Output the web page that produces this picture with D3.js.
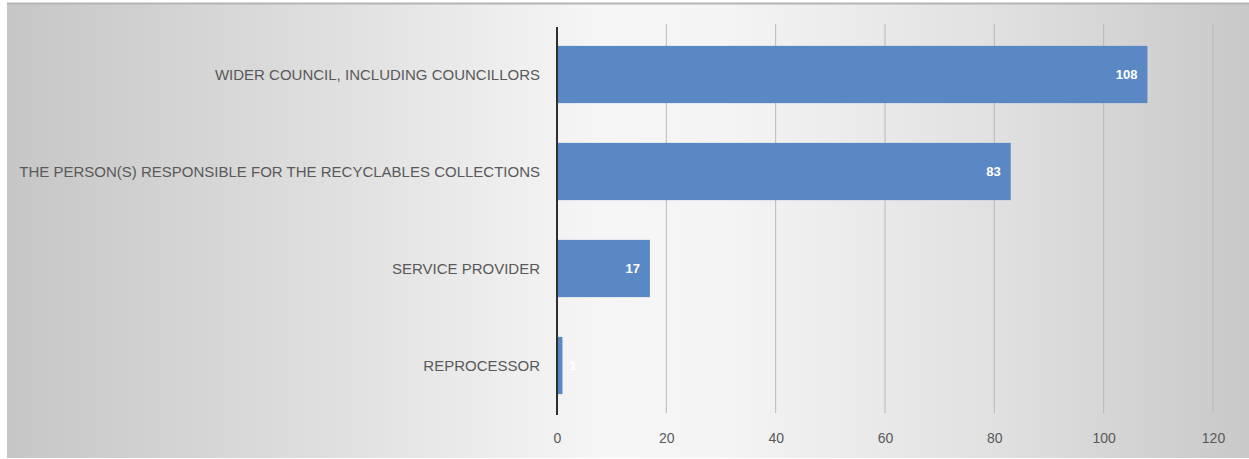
<!DOCTYPE html>
<html>
<head>
<meta charset="utf-8">
<script src="https://cdn.jsdelivr.net/npm/d3@7"></script>
<style>
  html, body { margin: 0; padding: 0; background: #ffffff; }
  svg { display: block; }
</style>
</head>
<body>
<svg id="chart" width="1249" height="459"></svg>
<script>
// Who receives the recyclables report
const categories = [
  "WIDER COUNCIL, INCLUDING COUNCILLORS",
  "THE PERSON(S) RESPONSIBLE FOR THE RECYCLABLES COLLECTIONS",
  "SERVICE PROVIDER",
  "REPROCESSOR"
];
const counts = [108, 83, 17, 1];
const tickValues = [0, 20, 40, 60, 80, 100, 120];

const W = 1249, H = 459;
const margin = { top: 24, right: 36, bottom: 47, left: 557 };

const svg = d3.select("#chart");

// Background panel with soft horizontal shading
const defs = svg.append("defs");
const grad = defs.append("linearGradient")
  .attr("id", "panelShade").attr("x1", "0%").attr("x2", "100%").attr("y1", "0%").attr("y2", "0%");
[["0%", "#c6c6c6"], ["25%", "#dedede"], ["48%", "#f6f6f6"], ["58%", "#f4f4f4"], ["80%", "#e0e0e0"], ["100%", "#c8c8c8"]]
  .forEach(([o, c]) => grad.append("stop").attr("offset", o).attr("stop-color", c));

svg.append("rect")
  .attr("x", 7).attr("y", 3).attr("width", W - 7).attr("height", H - 3 - 1)
  .attr("fill", "url(#panelShade)");
svg.append("line")
  .attr("x1", 7).attr("x2", W).attr("y1", 3.5).attr("y2", 3.5)
  .attr("stroke", "#b4b4b4").attr("stroke-width", 2);

const x = d3.scaleLinear().domain([0, 120]).range([margin.left, W - margin.right]);
const y = d3.scaleBand().domain(categories)
  .range([margin.top, H - margin.bottom]).paddingInner(0.41).paddingOuter(0.205);

// Vertical gridlines
svg.append("g")
  .selectAll("line")
  .data(tickValues.filter(v => v > 0))
  .join("line")
  .attr("x1", d => x(d)).attr("x2", d => x(d))
  .attr("y1", margin.top).attr("y2", H - margin.bottom + 1)
  .attr("stroke", "#b8b8b8").attr("stroke-width", 1);

// Bars
svg.append("g")
  .selectAll("rect")
  .data(categories)
  .join("rect")
  .attr("x", x(0))
  .attr("y", d => y(d) + 2)
  .attr("width", (d, i) => x(counts[i]) - x(0))
  .attr("height", y.bandwidth())
  .attr("fill", "#5a88c5");

// Value labels inside bar ends
svg.append("g")
  .selectAll("text")
  .data(categories)
  .join("text")
  .attr("x", (d, i) => counts[i] < 3 ? x(counts[i]) + 14 : x(counts[i]) - 10)
  .attr("y", d => y(d) + 2 + y.bandwidth() / 2)
  .attr("dy", "0.35em")
  .attr("text-anchor", "end")
  .attr("font-family", "'Liberation Sans', Arial, sans-serif")
  .attr("font-size", 13)
  .attr("font-weight", "bold")
  .attr("fill", "#ffffff")
  .text((d, i) => counts[i]);

// Category labels
svg.append("g")
  .selectAll("text")
  .data(categories)
  .join("text")
  .attr("x", margin.left - 17)
  .attr("y", d => y(d) + 2 + y.bandwidth() / 2)
  .attr("dy", "0.35em")
  .attr("text-anchor", "end")
  .attr("font-family", "'Liberation Sans', Arial, sans-serif")
  .attr("font-size", 15)
  .attr("fill", "#595959")
  .text(d => d);

// Category axis line at zero
svg.append("line")
  .attr("x1", x(0)).attr("x2", x(0))
  .attr("y1", margin.top + 3).attr("y2", H - margin.bottom + 3)
  .attr("stroke", "#2e2e2e").attr("stroke-width", 2);

// Value axis tick labels
const xAxis = d3.axisBottom(x).tickValues(tickValues).tickSize(0).tickPadding(0);
const gx = svg.append("g")
  .attr("transform", `translate(0,${H - margin.bottom + 26})`)
  .call(xAxis);
gx.select(".domain").remove();
gx.selectAll("text")
  .attr("dy", "0.35em")
  .attr("font-family", "'Liberation Sans', Arial, sans-serif")
  .attr("font-size", 14)
  .attr("fill", "#595959");
</script>
</body>
</html>
